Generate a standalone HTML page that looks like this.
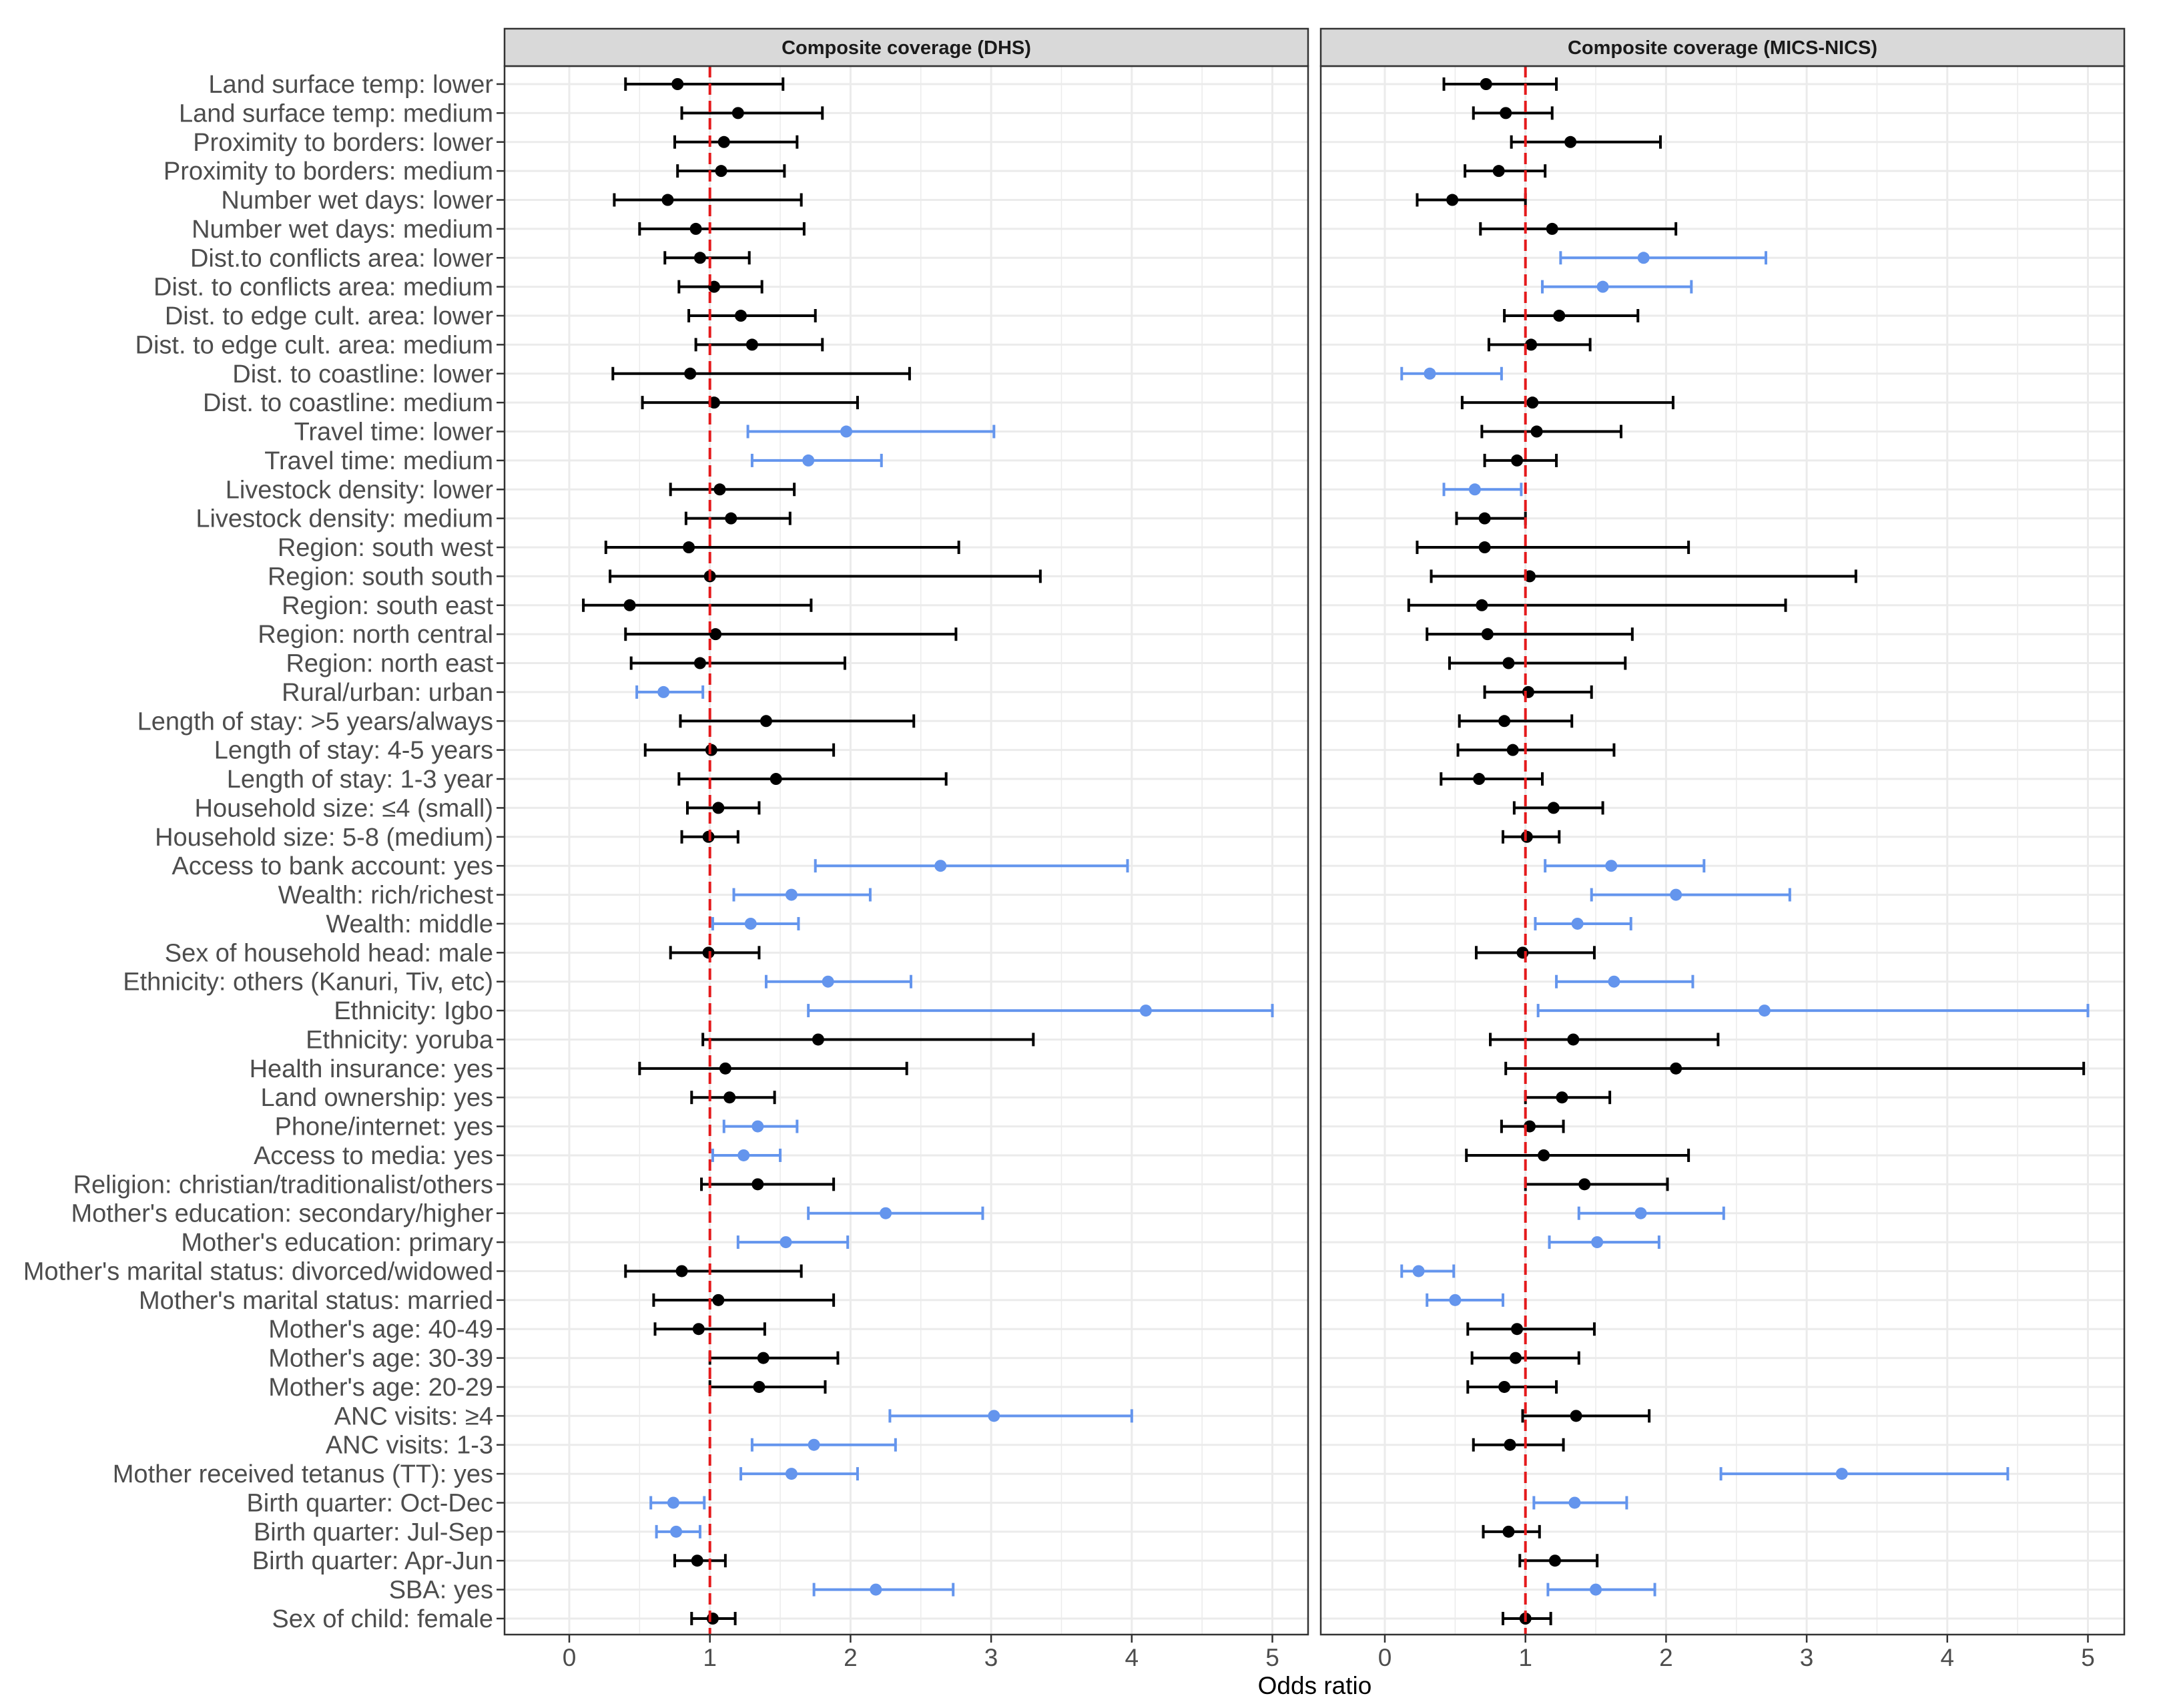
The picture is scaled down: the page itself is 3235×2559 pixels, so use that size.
<!DOCTYPE html>
<html><head><meta charset="utf-8"><style>
body{margin:0;background:#fff}
svg{display:block}
text{font-family:"Liberation Sans",sans-serif}
</style></head><body>
<svg id="chart" width="3235" height="2559" viewBox="0 0 3235 2559" xmlns="http://www.w3.org/2000/svg"></svg>
<script>
const labels=["Land surface temp:  lower","Land surface temp: medium","Proximity to borders:  lower","Proximity to borders: medium","Number wet days:  lower","Number wet days: medium","Dist.to conflicts area:  lower","Dist. to conflicts area: medium","Dist. to edge cult. area:  lower","Dist. to edge cult. area: medium","Dist. to coastline:  lower","Dist. to coastline: medium","Travel time:  lower","Travel time: medium","Livestock density:  lower","Livestock density: medium","Region: south west","Region: south south","Region: south east","Region: north central","Region: north east","Rural/urban: urban","Length of stay: >5 years/always","Length of stay: 4-5 years","Length of stay: 1-3 year","Household size: \u22644 (small)","Household size: 5-8 (medium)","Access to bank account: yes","Wealth: rich/richest","Wealth: middle","Sex of household head: male","Ethnicity: others (Kanuri, Tiv, etc)","Ethnicity: Igbo","Ethnicity: yoruba","Health insurance: yes","Land ownership: yes","Phone/internet: yes","Access to media: yes","Religion: christian/traditionalist/others","Mother's education: secondary/higher","Mother's education: primary","Mother's marital status: divorced/widowed","Mother's marital status: married","Mother's age: 40-49","Mother's age: 30-39","Mother's age: 20-29","ANC visits: \u22654","ANC visits: 1-3","Mother received tetanus (TT): yes","Birth quarter: Oct-Dec","Birth quarter: Jul-Sep","Birth quarter: Apr-Jun","SBA: yes","Sex of child: female"];
const dhsEst=[0.77,1.2,1.1,1.08,0.7,0.9,0.93,1.03,1.22,1.3,0.86,1.03,1.97,1.7,1.07,1.15,0.85,1.0,0.43,1.04,0.93,0.67,1.4,1.01,1.47,1.06,0.99,2.64,1.58,1.29,0.99,1.84,4.1,1.77,1.11,1.14,1.34,1.24,1.34,2.25,1.54,0.8,1.06,0.92,1.38,1.35,3.02,1.74,1.58,0.74,0.76,0.91,2.18,1.02];
const dhsLo=[0.4,0.8,0.75,0.77,0.32,0.5,0.68,0.78,0.85,0.9,0.31,0.52,1.27,1.3,0.72,0.83,0.26,0.29,0.1,0.4,0.44,0.48,0.79,0.54,0.78,0.84,0.8,1.75,1.17,1.02,0.72,1.4,1.7,0.95,0.5,0.87,1.1,1.02,0.94,1.7,1.2,0.4,0.6,0.61,1.0,1.0,2.28,1.3,1.22,0.58,0.62,0.75,1.74,0.87];
const dhsHi=[1.52,1.8,1.62,1.53,1.65,1.67,1.28,1.37,1.75,1.8,2.42,2.05,3.02,2.22,1.6,1.57,2.77,3.35,1.72,2.75,1.96,0.95,2.45,1.88,2.68,1.35,1.2,3.97,2.14,1.63,1.35,2.43,5.0,3.3,2.4,1.46,1.62,1.5,1.88,2.94,1.98,1.65,1.88,1.39,1.91,1.82,4.0,2.32,2.05,0.96,0.93,1.11,2.73,1.18];
const dhsSig=[0,0,0,0,0,0,0,0,0,0,0,0,1,1,0,0,0,0,0,0,0,1,0,0,0,0,0,1,1,1,0,1,1,0,0,0,1,1,0,1,1,0,0,0,0,0,1,1,1,1,1,0,1,0];
const micsEst=[0.72,0.86,1.32,0.81,0.48,1.19,1.84,1.55,1.24,1.04,0.32,1.05,1.08,0.94,0.64,0.71,0.71,1.03,0.69,0.73,0.88,1.02,0.85,0.91,0.67,1.2,1.01,1.61,2.07,1.37,0.98,1.63,2.7,1.34,2.07,1.26,1.03,1.13,1.42,1.82,1.51,0.24,0.5,0.94,0.93,0.85,1.36,0.89,3.25,1.35,0.88,1.21,1.5,1.0];
const micsLo=[0.42,0.63,0.9,0.57,0.23,0.68,1.25,1.12,0.85,0.74,0.12,0.55,0.69,0.71,0.42,0.51,0.23,0.33,0.17,0.3,0.46,0.71,0.53,0.52,0.4,0.92,0.84,1.14,1.47,1.07,0.65,1.22,1.09,0.75,0.86,1.0,0.83,0.58,1.0,1.38,1.17,0.12,0.3,0.59,0.62,0.59,0.98,0.63,2.39,1.06,0.7,0.96,1.16,0.84];
const micsHi=[1.22,1.19,1.96,1.14,1.0,2.07,2.71,2.18,1.8,1.46,0.83,2.05,1.68,1.22,0.97,1.0,2.16,3.35,2.85,1.76,1.71,1.47,1.33,1.63,1.12,1.55,1.24,2.27,2.88,1.75,1.49,2.19,5.0,2.37,4.97,1.6,1.27,2.16,2.01,2.41,1.95,0.49,0.84,1.49,1.38,1.22,1.88,1.27,4.43,1.72,1.1,1.51,1.92,1.18];
const micsSig=[0,0,0,0,0,0,1,1,0,0,1,0,0,0,1,0,0,0,0,0,0,0,0,0,0,0,0,1,1,1,0,1,1,0,0,0,0,0,0,1,1,1,1,0,0,0,0,0,1,1,0,0,1,0];
const xTicks=[0,1,2,3,4,5];
const panelTitles=["Composite coverage (DHS)","Composite coverage (MICS-NICS)"];

const NS="http://www.w3.org/2000/svg";
const svg=document.getElementById('chart');
function mk(tag,attrs,parent){const e=document.createElementNS(NS,tag);for(const k in attrs)e.setAttribute(k,attrs[k]);(parent||svg).appendChild(e);return e;}
const plotTop=99,plotBottom=2449,row0=126,rowStep=(2425-126)/53;
function yPos(i){return row0+i*rowStep;}
const panels=[{left:756,right:1960,x0:853,data:[dhsEst,dhsLo,dhsHi,dhsSig],key:'dhs'},{left:1979,right:3183,x0:2075,data:[micsEst,micsLo,micsHi,micsSig],key:'mics'}];
const unit=210.7;
panels.forEach((p,pi)=>{
  const xs=v=>p.x0+v*unit;
  const g=mk('g',{});
  
  
  mk('rect',{x:p.left,y:plotTop,width:p.right-p.left,height:plotBottom-plotTop,fill:'#fff'},g);
  for(let v=-0.5;v<=5.5;v+=0.5){const x=xs(v);if(x<p.left||x>p.right)continue;
    const l=mk('line',{x1:x,x2:x,y1:plotTop,y2:plotBottom,stroke:'#ebebeb','stroke-width':Number.isInteger(v)?3:1.5},g);
    
    }
  labels.forEach((_,i)=>{const l=mk('line',{x1:p.left,x2:p.right,y1:yPos(i),y2:yPos(i),stroke:'#ebebeb','stroke-width':3},g);
    
    });
  const [est,lo,hi,sig]=p.data;
  labels.forEach((lab,i)=>{
    const y=yPos(i),c=sig[i]?'#6495ed':'#000';
    const eg=mk('g',{},g);
    
    
    mk('line',{x1:xs(lo[i]),x2:xs(hi[i]),y1:y,y2:y,stroke:c,'stroke-width':4},eg);
    mk('line',{x1:xs(lo[i]),x2:xs(lo[i]),y1:y-10,y2:y+10,stroke:c,'stroke-width':4},eg);
    mk('line',{x1:xs(hi[i]),x2:xs(hi[i]),y1:y-10,y2:y+10,stroke:c,'stroke-width':4},eg);
    mk('circle',{cx:xs(est[i]),cy:y,r:9,fill:c},eg);
  });
  const rl=mk('line',{x1:xs(1),x2:xs(1),y1:plotTop,y2:plotBottom,stroke:'#e41a1c','stroke-width':4,'stroke-dasharray':'17 9'},g);
  
  
  mk('rect',{x:p.left,y:plotTop,width:p.right-p.left,height:plotBottom-plotTop,fill:'none',stroke:'#333','stroke-width':2.5},g);
  const st=mk('rect',{x:p.left,y:43,width:p.right-p.left,height:56,fill:'#d9d9d9',stroke:'#333','stroke-width':2.5},g);
  
  
  const tt=mk('text',{x:(p.left+p.right)/2,y:81,'text-anchor':'middle','font-size':29,'font-weight':'bold',fill:'#1a1a1a'},g);
  tt.textContent=panelTitles[pi];
  
  
  xTicks.forEach(t=>{const x=xs(t);
    mk('line',{x1:x,x2:x,y1:plotBottom,y2:plotBottom+12,stroke:'#333','stroke-width':2.5},g);
    const tx=mk('text',{x:x,y:2496,'text-anchor':'middle','font-size':37,fill:'#4d4d4d'},g);
    tx.textContent=t;
    
    });
});
labels.forEach((lab,i)=>{const y=yPos(i);
  mk('line',{x1:744,x2:756,y1:y,y2:y,stroke:'#333','stroke-width':2.5});
  const t=mk('text',{x:739,y:y+13,'text-anchor':'end','font-size':38,fill:'#4d4d4d'});
  t.textContent=lab;
  
  });
const xt=mk('text',{x:1970,y:2538,'text-anchor':'middle','font-size':37,fill:'#000'});
xt.textContent='Odds ratio';


</script>
</body></html>
